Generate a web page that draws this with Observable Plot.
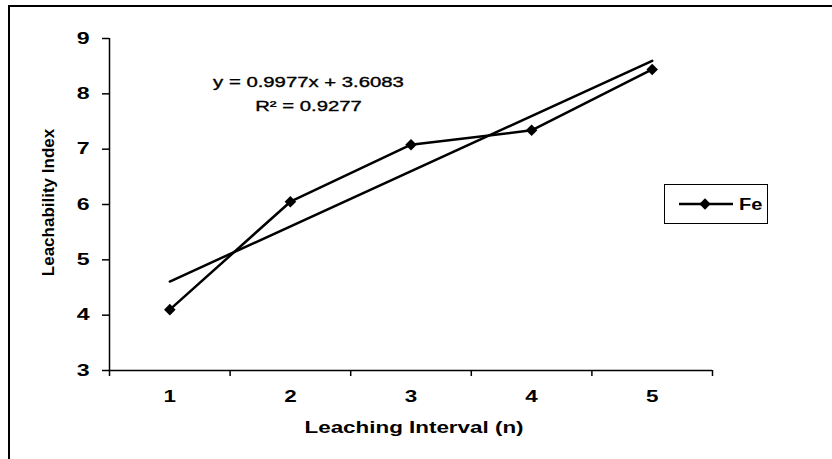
<!DOCTYPE html>
<html><head><meta charset="utf-8">
<script src="https://cdn.jsdelivr.net/npm/d3@7"></script>
<script src="https://cdn.jsdelivr.net/npm/@observablehq/plot@0.6"></script>
<style>
html,body{margin:0;padding:0;background:#fff;}
#wrap{position:relative;width:832px;height:459px;overflow:hidden;font-family:"Liberation Sans",Arial,sans-serif;}
#frame{position:absolute;left:8px;top:5px;width:900px;height:500px;border-left:2.5px solid #000;border-top:2.5px solid #000;pointer-events:none;}
#chart{position:absolute;left:0;top:0;}
#legend{position:absolute;left:664px;top:184px;width:102px;height:38px;border:1.5px solid #000;background:#fff;}
</style></head><body>
<div id="wrap"><div id="chart"></div><div id="frame"></div><div id="legend"></div></div>
<script>
const intervals = [1, 2, 3, 4, 5];
const fe = [4.10, 6.05, 7.08, 7.34, 8.44];
const yTicks = [3, 4, 5, 6, 7, 8, 9];
const xBoundaryTicks = [0.5, 1.5, 2.5, 3.5, 4.5, 5.5];
const xLabel = "Leaching Interval (n)";
const yLabel = "Leachability Index";
const equation = ["y = 0.9977x + 3.6083", "R² = 0.9277"];
const seriesName = "Fe";

const data = intervals.map((x, i) => ({x, y: fe[i]}));
const font = "Liberation Sans, Arial, sans-serif";

const chart = Plot.plot({
  width: 832,
  height: 459,
  marginLeft: 109,
  marginRight: 120,
  marginTop: 38,
  marginBottom: 89,
  style: {fontFamily: font, fontSize: "16px", fontWeight: "bold", color: "#000", background: "transparent"},
  x: {type: "linear", domain: [0.5, 5.5]},
  y: {domain: [3, 9]},
  marks: [
    Plot.axisY({ticks: yTicks, tickSize: 7, tickPadding: 13, label: null, tickFormat: d3.format("d"), strokeWidth: 1.5, fontWeight: "bold", fontSize: 16.5}),
    Plot.axisX({ticks: xBoundaryTicks, tickSize: 6, tickFormat: () => "", label: null, strokeWidth: 1.5}),
    Plot.axisX({ticks: intervals, tickSize: 0, tickPadding: 20, label: null, tickFormat: d3.format("d"), fontWeight: "bold"}),
    Plot.ruleX([0.5], {stroke: "#000", strokeWidth: 1.5}),
    Plot.ruleY([3], {stroke: "#000", strokeWidth: 1.5}),
    Plot.linearRegressionY(data, {x: "x", y: "y", ci: 0, stroke: "#000", strokeWidth: 2.5}),
    Plot.line(data, {x: "x", y: "y", stroke: "#000", strokeWidth: 2.5}),
    Plot.dot(data, {x: "x", y: "y", symbol: "square", rotate: 45, r: 4.6, fill: "#000", stroke: "none"}),
    Plot.text(equation, {x: () => 2.15, y: (d, i) => i === 0 ? 8.2 : 7.77, text: d => d, fontSize: 14.5, fontWeight: "normal", fill: "#000", stroke: "#000", strokeWidth: 0.35, textAnchor: "middle"}),
    Plot.text([xLabel], {frameAnchor: "bottom", dx: 3, dy: 62, text: d => d, fontSize: 16, fontWeight: "bold", fill: "#000", textAnchor: "middle"}),
    Plot.text([yLabel], {frameAnchor: "left", dx: -61, dy: -2, rotate: -90, text: d => d, fontSize: 17, fontWeight: "bold", fill: "#000", textAnchor: "middle"})
  ]
});
document.getElementById("chart").appendChild(chart);

// Legend
const lg = d3.select("#legend").append("svg").attr("width", 102).attr("height", 38);
lg.append("line").attr("x1", 14).attr("x2", 68).attr("y1", 19).attr("y2", 19).attr("stroke", "#000").attr("stroke-width", 2.5);
lg.append("rect").attr("x", 40 - 4).attr("y", 19 - 4).attr("width", 8).attr("height", 8).attr("fill", "#000").attr("transform", "rotate(45 40 19)");
lg.append("text").attr("x", 74).attr("y", 25).attr("font-family", font).attr("font-size", 16).attr("font-weight", "bold").text(seriesName);

// Horizontal stretch of the scanned lettering
function stretch(root, k) {
  root.querySelectorAll("text").forEach(t => {
    const tr = (t.getAttribute("transform") || "") + (t.parentNode.getAttribute("transform") || "");
    if (tr.includes("rotate")) return;
    const len = t.getComputedTextLength();
    if (len > 0) { t.setAttribute("textLength", len * k); t.setAttribute("lengthAdjust", "spacingAndGlyphs"); }
  });
}
stretch(chart, 1.4);
stretch(document.getElementById("legend"), 1.25);
</script>
</body></html>
